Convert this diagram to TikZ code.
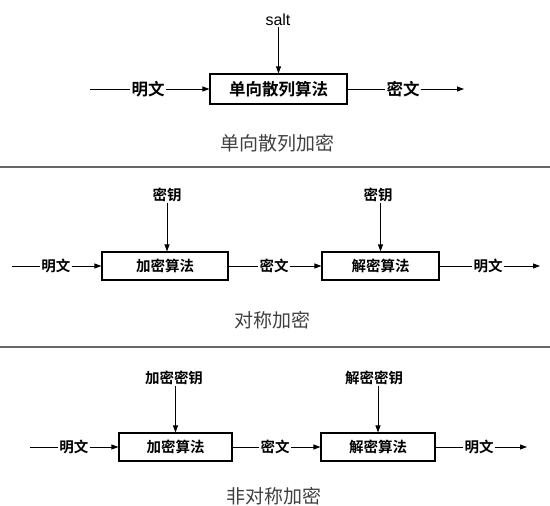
\documentclass[tikz,border=0pt]{standalone}
\usepackage{fontspec}
\usetikzlibrary{arrows.meta}
\newfontfamily\cjk{Noto Sans CJK SC}[BoldFont={Noto Sans CJK SC Bold}]
\newfontfamily\lsans{Liberation Sans}
\tikzset{
  algbox/.style={draw, line width=1.1pt, inner sep=0pt, font=\cjk\bfseries\fontsize{14.5}{16}\selectfont},
  algboxA/.style={algbox, font=\cjk\bfseries\fontsize{16.5}{18}\selectfont},
  lbl/.style={inner sep=1pt, font=\cjk\bfseries\fontsize{14.5}{16}\selectfont},
  lblA/.style={inner sep=1pt, font=\cjk\bfseries\fontsize{16.5}{18}\selectfont},
  captiontext/.style={inner sep=0pt, text=black!75, font=\cjk\fontsize{19}{21}\selectfont},
  ln/.style={line width=0.8pt},
  arr/.style={line width=0.8pt, -{Triangle[length=7pt,width=5pt]}},
  sepline/.style={draw=black!60, line width=1.6pt}
}
\begin{document}
\begin{tikzpicture}[x=1pt,y=-1pt]
\useasboundingbox (0,0) rectangle (550,506);
% ---------- section 1 ----------
\node[algboxA, minimum width=137pt, minimum height=30pt] (h) at (278.5,89) {单向散列算法};
\node[inner sep=1pt, font=\lsans\fontsize{16}{18}\selectfont] (salt) at (278,20) {salt};
\node[lblA] (p1) at (148,89) {明文};
\node[lblA] (c1) at (403,89) {密文};
\coordinate (s1) at (90,89);
\coordinate (e1) at (464,89);
\node[captiontext] (cap1) at (277,143) {单向散列加密};
\draw[arr] (salt.south -| h.north) -- (h.north);
\draw[ln] (s1) -- (p1.west);
\draw[arr] (p1.east) -- (h.west);
\draw[ln] (h.east) -- (c1.west);
\draw[arr] (c1.east) -- (e1);
% separator
\coordinate (l1) at (0,167);
\coordinate (r1) at (550,167);
\draw[sepline] (l1) -- (r1);
% ---------- section 2 ----------
\node[algbox, minimum width=126pt, minimum height=28pt] (enc2) at (165,266) {加密算法};
\node[algbox, minimum width=117pt, minimum height=28pt] (dec2) at (380.5,266) {解密算法};
\node[lbl] (k21) at (167,195) {密钥};
\node[lbl] (k22) at (378,195) {密钥};
\node[lbl] (p21) at (56,266) {明文};
\node[lbl] (c2) at (274,266) {密文};
\node[lbl] (p22) at (488,266) {明文};
\coordinate (s2) at (12,266);
\coordinate (e2) at (540,266);
\node[captiontext] (cap2) at (272,320) {对称加密};
\draw[arr] (k21.south) -- (k21.south |- enc2.north);
\draw[arr] (k22.south -| dec2.north) -- (dec2.north);
\draw[ln] (s2) -- (p21.west);
\draw[arr] (p21.east) -- (enc2.west);
\draw[ln] (enc2.east) -- (c2.west);
\draw[arr] (c2.east) -- (dec2.west);
\draw[ln] (dec2.east) -- (p22.west);
\draw[arr] (p22.east) -- (e2);
% separator
\coordinate (l2) at (0,347);
\coordinate (r2) at (550,347);
\draw[sepline] (l2) -- (r2);
% ---------- section 3 ----------
\node[algbox, minimum width=113pt, minimum height=28pt] (enc3) at (175.5,447) {加密算法};
\node[algbox, minimum width=114pt, minimum height=28pt] (dec3) at (378,447) {解密算法};
\node[lbl] (k31) at (174,378) {加密密钥};
\node[lbl] (k32) at (374,378) {解密密钥};
\node[lbl] (p31) at (74,447) {明文};
\node[lbl] (c3) at (275,447) {密文};
\node[lbl] (p32) at (479,447) {明文};
\coordinate (s3) at (30,447);
\coordinate (e3) at (527,447);
\node[captiontext] (cap3) at (274,496) {非对称加密};
\draw[arr] (k31.south -| enc3.north) -- (enc3.north);
\draw[arr] (k32.south -| dec3.north) -- (dec3.north);
\draw[ln] (s3) -- (p31.west);
\draw[arr] (p31.east) -- (enc3.west);
\draw[ln] (enc3.east) -- (c3.west);
\draw[arr] (c3.east) -- (dec3.west);
\draw[ln] (dec3.east) -- (p32.west);
\draw[arr] (p32.east) -- (e3);
\end{tikzpicture}
\end{document}
